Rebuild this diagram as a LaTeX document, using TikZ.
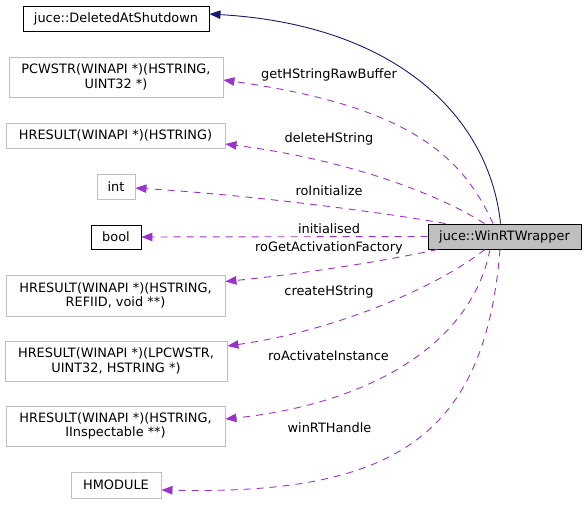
\documentclass[tikz,border=0pt]{standalone}
\usepackage{fontspec}
\setmainfont{DejaVu Sans}
\usetikzlibrary{arrows.meta,calc}
\definecolor{edgepurple}{HTML}{9A32CD}
\definecolor{navyedge}{HTML}{191970}
\definecolor{boxgray}{HTML}{BFBFBF}
\definecolor{fillgray}{HTML}{BFBFBF}
\tikzset{
  cls/.style={draw=boxgray, line width=0.9pt, inner sep=0pt, align=center, font=\fontsize{12.9}{14.7}\selectfont, text=black},
  docls/.style={cls, draw=black},
  cur/.style={cls, draw=black, fill=fillgray},
  usage/.style={draw=edgepurple, line width=0.9pt, dash pattern=on 7pt off 6pt, -{Triangle[length=11pt,width=8.5pt]}},
  inherit/.style={draw=navyedge, line width=0.9pt, -{Triangle[length=11pt,width=8.5pt]}},
  lbl/.style={font=\fontsize{12.9}{14.7}\selectfont, text=black, inner sep=0pt}
}
\begin{document}
\begin{tikzpicture}[x=1pt,y=-1pt]
\useasboundingbox (0,0) rectangle (587,504);
% nodes
\node[docls, minimum width=186pt, minimum height=25pt] (del) at (116,18.5) {juce::DeletedAtShutdown};
\node[cls, minimum width=214pt, minimum height=40pt] (pcw) at (116,77) {PCWSTR(WINAPI *)(HSTRING,\\UINT32 *)};
\node[cls, minimum width=219pt, minimum height=25pt] (hr1) at (115.5,135.5) {HRESULT(WINAPI *)(HSTRING)};
\node[cls, minimum width=38pt, minimum height=25pt] (int) at (116,186.5) {int};
\node[docls, minimum width=50pt, minimum height=24pt] (bool) at (116,237) {bool};
\node[cls, minimum width=219pt, minimum height=41pt] (hr2) at (115.5,295.5) {HRESULT(WINAPI *)(HSTRING,\\REFIID, void **)};
\node[cls, minimum width=222pt, minimum height=40pt] (hr3) at (116,361) {HRESULT(WINAPI *)(LPCWSTR,\\UINT32, HSTRING *)};
\node[cls, minimum width=219pt, minimum height=40pt] (hr4) at (115.5,426) {HRESULT(WINAPI *)(HSTRING,\\IInspectable **)};
\node[cls, minimum width=90pt, minimum height=26pt] (hm) at (116,485) {HMODULE};
\node[cur, minimum width=153pt, minimum height=25pt] (win) at (504.5,236.5) {juce::WinRTWrapper};
% inheritance
\draw[inherit] ($(win.north)+(-4,0)$) .. controls (490,120) and (400,25) .. ($(del.east)+(0,-4.5)$);
% usage edges
\draw[usage] ($(win.north)+(-11.5,0)$) .. controls (460,150) and (400,105) .. ($(pcw.east)+(0,3)$);
\draw[usage] ($(win.north)+(-20,0)$) .. controls (440,195) and (350,160) .. ($(hr1.east)+(0,8.5)$);
\draw[usage] ($(win.north)+(-59,0)$) .. controls (380,212) and (250,195) .. ($(int.east)+(0,1.5)$);
\draw[usage] (win.west) -- (bool.east);
\draw[usage] ($(win.south)+(-67,0)$) .. controls (380,262) and (300,274) .. ($(hr2.east)+(0,-14)$);
\draw[usage] ($(win.south)+(-19.5,0)$) .. controls (440,285) and (340,330) .. ($(hr3.east)+(0,-15)$);
\draw[usage] ($(win.south)+(-14.5,0)$) .. controls (470,350) and (360,405) .. ($(hr4.east)+(0,-7)$);
\draw[usage] ($(win.south)+(-4.5,0)$) .. controls (485,440) and (390,495) .. ($(hm.east)+(0,5)$);
% labels
\node[lbl] (lgh) at (329,75) {getHStringRawBuffer};
\node[lbl] (ldh) at (329,139) {deleteHString};
\node[lbl] (lri) at (329,191) {roInitialize};
\node[lbl] (lin) at (329,228.5) {initialised};
\node[lbl] (lga) at (329,248) {roGetActivationFactory};
\node[lbl] (lch) at (329,292) {createHString};
\node[lbl] (lra) at (328.5,355.5) {roActivateInstance};
\node[lbl] (lwh) at (329.5,428) {winRTHandle};
\end{tikzpicture}
\end{document}
